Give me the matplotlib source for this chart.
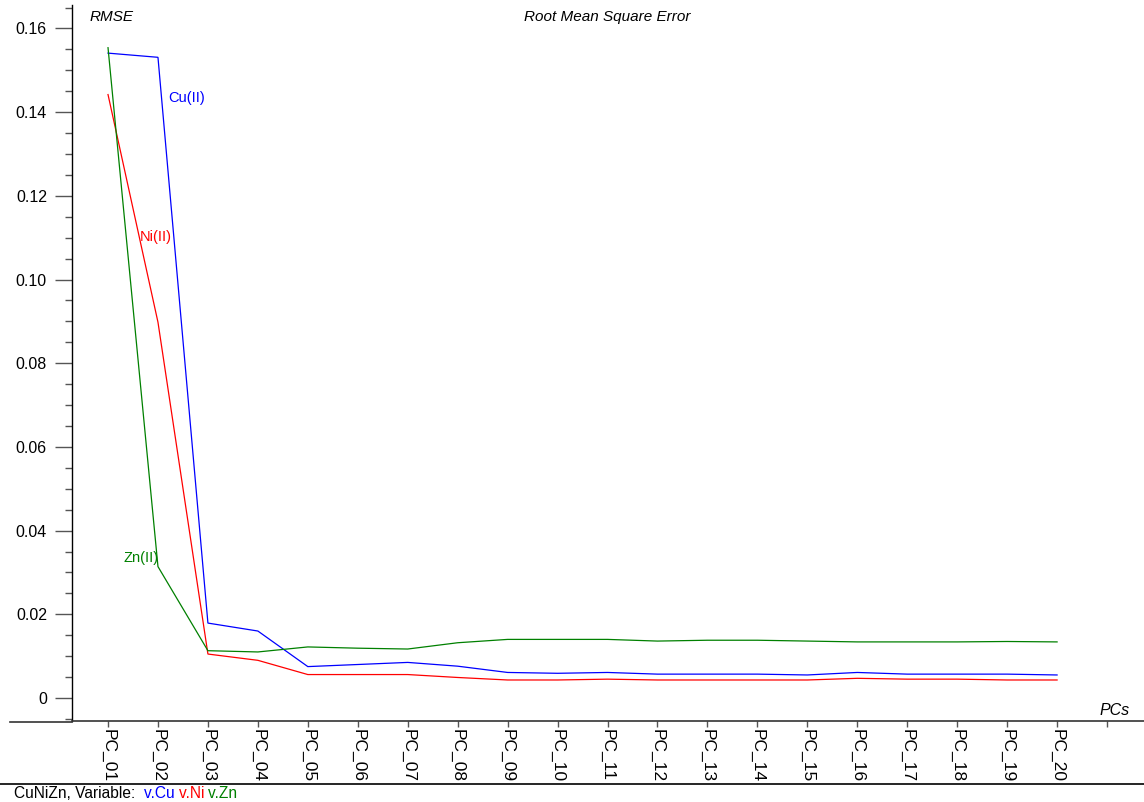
import matplotlib
matplotlib.use('Agg')
import matplotlib.pyplot as plt
from matplotlib.lines import Line2D
from matplotlib.ticker import MultipleLocator, FixedLocator, FuncFormatter


plt.rcParams['font.family'] = ['Liberation Sans', 'DejaVu Sans']

pcs = ['PC_%02d' % i for i in range(1, 21)]

rmse_cu = [0.1541, 0.1531, 0.0179, 0.0160, 0.0075, 0.0080, 0.0085, 0.0076,
           0.0061, 0.0059, 0.0061, 0.0057, 0.0057, 0.0057, 0.0055, 0.0061,
           0.0057, 0.0057, 0.0057, 0.0055]
rmse_ni = [0.1442, 0.0898, 0.0105, 0.0090, 0.0056, 0.0056, 0.0056, 0.0049,
           0.0043, 0.0043, 0.0045, 0.0043, 0.0043, 0.0043, 0.0043, 0.0047,
           0.0045, 0.0045, 0.0043, 0.0043]
rmse_zn = [0.1554, 0.0314, 0.0113, 0.0110, 0.0122, 0.0119, 0.0117, 0.0132,
           0.0140, 0.0140, 0.0140, 0.0136, 0.0138, 0.0138, 0.0136, 0.0134,
           0.0134, 0.0134, 0.0135, 0.0134]

series_names = ['Cu(II)', 'Ni(II)', 'Zn(II)']
variables = ['v.Cu', 'v.Ni', 'v.Zn']
series_colors = ['#0000ff', '#ff0000', '#008000']
# where each series name sits: (pc position, rmse)
label_pos = [(2.2, 0.1434), (1.64, 0.1102), (1.30, 0.0335)]

W, H = 1144, 802
fig = plt.figure(figsize=(W / 100, H / 100), dpi=100, facecolor='white')

# axes box in pixels: left 72, top 5, bottom 721
ax = fig.add_axes([72 / W, 1 - 721 / H, 1 - 72 / W, (721 - 5) / H])

x = list(range(1, len(pcs) + 1))
for ys, col in zip([rmse_cu, rmse_ni, rmse_zn], series_colors):
    ax.plot(x, ys, color=col, lw=0.9, solid_joinstyle='miter')

for name, col, (lx, ly) in zip(series_names, series_colors, label_pos):
    ax.text(lx, ly, name, color=col, fontsize=10.5, ha='left', va='center')

ax.set_xlim(0.279, 21.74)
ax.set_ylim(-0.0055, 0.1656)

for s in ['top', 'right']:
    ax.spines[s].set_visible(False)
ax.spines['left'].set_linewidth(1.0)
ax.spines['bottom'].set_linewidth(1.2)
ax.spines['bottom'].set_color('#333333')

ax.yaxis.set_major_locator(MultipleLocator(0.02))
ax.yaxis.set_minor_locator(MultipleLocator(0.005))
ax.yaxis.set_major_formatter(FuncFormatter(lambda v, p: '0' if abs(v) < 1e-9 else '%.2f' % v))
ax.tick_params(axis='y', which='major', length=12, width=1.0, color='#555555',
               labelsize=11.5, pad=6)
ax.tick_params(axis='y', which='minor', length=5, width=1.0, color='#555555')

# one spare tick past the last component, left unlabeled
ax.xaxis.set_major_locator(FixedLocator(x + [21]))
ax.set_xticklabels(pcs + [''])
ax.tick_params(axis='x', which='major', length=4, width=1.0, color='#555555',
               labelsize=12.5, pad=2, labelrotation=-90)

ax.text(0.016, 0.983, 'RMSE', transform=ax.transAxes, style='italic',
        fontsize=11, ha='left', va='center')
ax.text((607 - 72) / (W - 72), 0.983, 'Root Mean Square Error', transform=ax.transAxes,
        style='italic', fontsize=11, ha='center', va='center')
ax.text(21.16, -0.0029, 'PCs', style='italic', fontsize=11.5, ha='center', va='center')

# x axis line runs past the y axis, plus the footer rule
fig.add_artist(Line2D([10 / W, 72 / W], [1 - 721.5 / H] * 2, color='#333333', lw=1.2))
fig.add_artist(Line2D([0, 1], [1 - 784 / H] * 2, color='black', lw=1.2))

# footer: dataset name followed by the coloured variable names
prev = fig.text(14 / W, 1 - 793 / H, 'CuNiZn, Variable:  ', fontsize=11.2,
                va='center', ha='left')
for word, col in zip(variables, series_colors):
    prev = ax.annotate(word + ' ', xy=(1, 0), xycoords=prev, xytext=(0, 0),
                       textcoords='offset points', color=col, fontsize=11.2,
                       va='bottom', ha='left', annotation_clip=False)

fig.savefig('out.png', dpi=100, facecolor='white')
